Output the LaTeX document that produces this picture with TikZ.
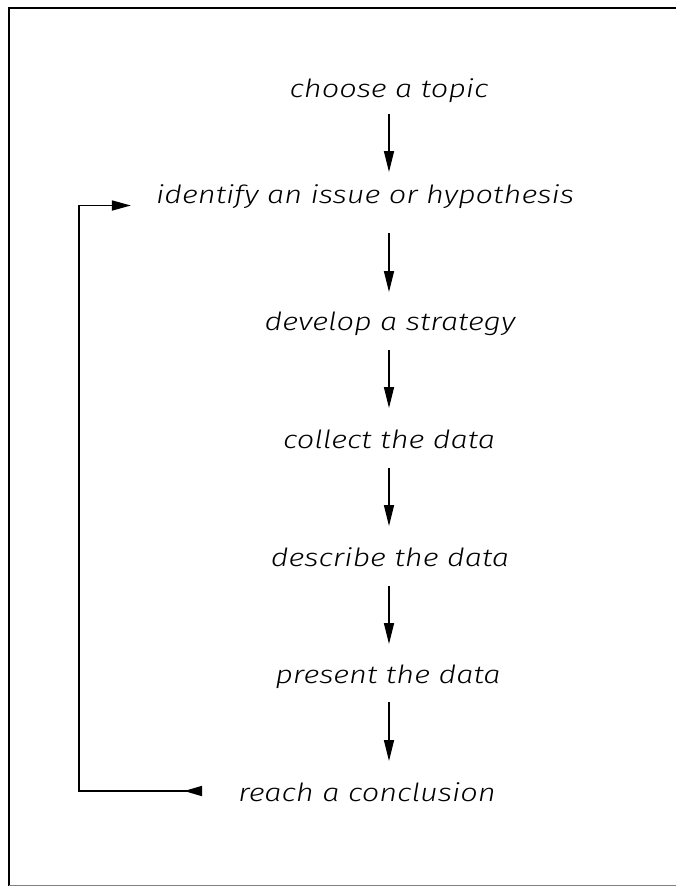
\documentclass[tikz,border=0pt]{standalone}
\usepackage{fontspec}
\setmainfont{Fira Sans}[UprightFont=* Light, ItalicFont=* Light Italic]
\usetikzlibrary{arrows.meta,calc}
\newcommand\hw[1]{\scalebox{1.23}[1]{#1}}
\begin{document}
\begin{tikzpicture}[x=1pt,y=-1pt,
  lbl/.style={anchor=base, inner sep=0pt, font=\fontsize{25}{30}\selectfont\itshape},
  flow/.style={line width=1.7pt, -{Triangle[length=21pt,width=10pt]}},
  loopline/.style={line width=1.7pt, {Triangle[reversed,length=18pt,width=10pt]}-{Triangle[length=19pt,width=10pt]}}]
\useasboundingbox (0,0) rectangle (676,887);
\draw[line width=2pt] (676,8) -- (9,8) -- (9,886);
\draw[gray, line width=1pt] (9,885.5) -- (676,885.5);

\node[lbl] (topic)    at (389,97)  {\hw{choose a topic}};
\node[lbl] (identify) at (365,203) {\hw{identify an issue or hypothesis}};
\node[lbl] (develop)  at (390,330) {\hw{develop a strategy}};
\node[lbl] (collect)  at (389,448) {\hw{collect the data}};
\node[lbl] (describe) at (390,566) {\hw{describe the data}};
\node[lbl] (present)  at (388,683) {\hw{present the data}};
\node[lbl] (reach)    at (367,801) {\hw{reach a conclusion}};

\draw[flow] ($(topic.base)+(0,17)$) -- ($(topic.base |- identify.base)+(0,-31)$);
\draw[flow] ($(topic.base |- identify.base)+(0,30)$) -- ($(topic.base |- develop.base)+(0,-38)$);
\draw[flow] ($(topic.base |- develop.base)+(0,20)$) -- ($(topic.base |- collect.base)+(0,-40)$);
\draw[flow] ($(topic.base |- collect.base)+(0,20)$) -- ($(topic.base |- describe.base)+(0,-40)$);
\draw[flow] ($(topic.base |- describe.base)+(0,20)$) -- ($(topic.base |- present.base)+(0,-39)$);
\draw[flow] ($(topic.base |- present.base)+(0,19)$) -- ($(topic.base |- reach.base)+(0,-40)$);

\draw[loopline] ($(reach.base west)+(-36,-10)$) -- ++(-123,0) |- ($(identify.base west)+(-25,2.5)$);
\end{tikzpicture}
\end{document}
